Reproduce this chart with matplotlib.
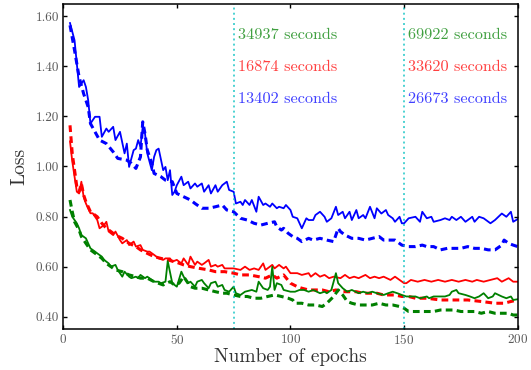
import matplotlib
matplotlib.use("Agg")
import matplotlib.pyplot as plt

plt.rcParams['font.family'] = 'serif'
plt.rcParams['font.serif'] = ['cmr10', 'DejaVu Serif']
plt.rcParams['mathtext.fontset'] = 'cm'
plt.rcParams['axes.formatter.use_mathtext'] = True

# Values (epoch, loss)
blue_solid_x = [3, 5, 6, 7, 9, 10, 11, 12, 14, 16, 17, 19, 20, 22, 23, 25, 27, 28, 29, 31,
                32, 33, 34, 35, 36, 37, 39, 40, 41, 42, 44, 45, 46, 47, 48, 49, 50, 52, 53, 55,
                56, 58, 59, 61, 62, 64, 65, 67, 68, 70, 72, 73, 75, 76, 78, 79, 80, 82, 83, 85,
                86, 88, 89, 91, 92, 94, 95, 97, 98, 100, 101, 103, 105, 107, 108, 110, 111, 113, 115, 116,
                118, 120, 121, 123, 124, 126, 127, 129, 130, 132, 133, 135, 137, 138, 140, 142, 143, 145, 146, 148,
                149, 150, 152, 155, 157, 158, 160, 162, 163, 166, 168, 170, 171, 173, 175, 177, 180, 181, 183, 185,
                188, 190, 193, 195, 197, 198, 200]
blue_solid_y = [1.572, 1.503, 1.410, 1.317, 1.344, 1.317, 1.264, 1.171, 1.198, 1.198, 1.118, 1.151, 1.138, 1.158, 1.105, 1.138, 1.052, 1.091, 0.998, 1.065,
                1.071, 1.105, 1.078, 1.158, 1.131, 1.052, 0.985, 1.038, 1.065, 1.071, 0.985, 0.998, 0.945, 0.985, 0.886, 0.899, 0.925, 0.959, 0.925, 0.939,
                0.912, 0.932, 0.919, 0.932, 0.899, 0.925, 0.892, 0.925, 0.899, 0.925, 0.939, 0.906, 0.899, 0.852, 0.859, 0.846, 0.866, 0.846, 0.866, 0.819,
                0.879, 0.846, 0.852, 0.839, 0.852, 0.833, 0.839, 0.833, 0.846, 0.826, 0.799, 0.793, 0.753, 0.793, 0.786, 0.786, 0.806, 0.819, 0.799, 0.779,
                0.793, 0.839, 0.806, 0.819, 0.793, 0.819, 0.786, 0.826, 0.793, 0.806, 0.793, 0.839, 0.793, 0.833, 0.812, 0.826, 0.806, 0.793, 0.779, 0.799,
                0.773, 0.773, 0.793, 0.799, 0.779, 0.819, 0.793, 0.799, 0.779, 0.786, 0.793, 0.786, 0.799, 0.786, 0.799, 0.779, 0.799, 0.779, 0.799, 0.793,
                0.773, 0.786, 0.812, 0.799, 0.819, 0.779, 0.790]

blue_dash_x = [3, 5, 7, 9, 11, 12, 14, 16, 19, 22, 24, 28, 30, 32, 34, 35, 36, 37, 39, 40,
               43, 45, 48, 50, 53, 56, 58, 61, 64, 67, 70, 72, 75, 78, 81, 84, 87, 90, 93, 94,
               96, 97, 99, 101, 103, 105, 108, 110, 113, 116, 119, 121, 122, 124, 127, 130, 133, 136, 139, 141,
               144, 146, 149, 152, 155, 158, 160, 163, 166, 169, 172, 175, 178, 181, 184, 187, 190, 193, 194, 196,
               198, 200]
blue_dash_y = [1.563, 1.463, 1.357, 1.290, 1.237, 1.171, 1.138, 1.105, 1.091, 1.058, 1.032, 1.025, 1.012, 0.992, 1.038, 1.178, 1.131, 1.065, 1.012, 0.972,
               0.959, 0.945, 0.939, 0.892, 0.879, 0.866, 0.852, 0.833, 0.833, 0.839, 0.846, 0.826, 0.819, 0.793, 0.786, 0.773, 0.766, 0.773, 0.779, 0.759,
               0.746, 0.753, 0.733, 0.720, 0.713, 0.700, 0.713, 0.706, 0.713, 0.706, 0.700, 0.753, 0.740, 0.726, 0.713, 0.713, 0.706, 0.713, 0.720, 0.706,
               0.706, 0.706, 0.686, 0.680, 0.680, 0.686, 0.680, 0.680, 0.667, 0.673, 0.673, 0.673, 0.680, 0.673, 0.673, 0.667, 0.667, 0.686, 0.706, 0.693,
               0.686, 0.680]

red_solid_x = [3, 4, 5, 6, 7, 8, 9, 10, 12, 13, 15, 16, 18, 19, 20, 22, 23, 25, 26, 28,
               29, 31, 32, 34, 35, 37, 38, 40, 41, 42, 44, 45, 47, 48, 50, 52, 53, 55, 56, 58,
               59, 61, 62, 64, 65, 67, 68, 70, 71, 73, 75, 78, 80, 82, 84, 86, 88, 89, 92, 93,
               95, 97, 98, 100, 101, 103, 105, 108, 109, 111, 113, 115, 117, 119, 122, 124, 126, 128, 130, 133,
               135, 137, 139, 141, 144, 146, 148, 150, 151, 153, 156, 159, 162, 165, 168, 171, 174, 177, 180, 182,
               185, 188, 191, 193, 196, 198, 200]
red_solid_y = [1.100, 1.020, 0.959, 0.899, 0.892, 0.939, 0.879, 0.852, 0.813, 0.813, 0.786, 0.753, 0.766, 0.779, 0.740, 0.726, 0.740, 0.706, 0.693, 0.706,
               0.686, 0.700, 0.680, 0.686, 0.667, 0.660, 0.660, 0.647, 0.640, 0.633, 0.627, 0.633, 0.633, 0.620, 0.627, 0.613, 0.633, 0.607, 0.640, 0.607,
               0.620, 0.607, 0.613, 0.627, 0.600, 0.607, 0.600, 0.607, 0.593, 0.593, 0.593, 0.587, 0.600, 0.587, 0.593, 0.587, 0.613, 0.587, 0.607, 0.593,
               0.607, 0.593, 0.600, 0.574, 0.574, 0.574, 0.567, 0.574, 0.560, 0.574, 0.560, 0.567, 0.554, 0.560, 0.554, 0.567, 0.554, 0.560, 0.554, 0.567,
               0.554, 0.560, 0.554, 0.560, 0.547, 0.560, 0.547, 0.534, 0.534, 0.547, 0.540, 0.547, 0.540, 0.547, 0.540, 0.547, 0.540, 0.547, 0.540, 0.547,
               0.540, 0.547, 0.554, 0.540, 0.554, 0.540, 0.540]

red_dash_x = [3, 4, 5, 6, 7, 8, 9, 10, 12, 15, 17, 19, 21, 23, 26, 29, 32, 34, 37, 40,
              43, 46, 50, 53, 56, 60, 64, 67, 71, 75, 78, 82, 86, 89, 92, 94, 97, 100, 103, 105,
              108, 111, 114, 117, 120, 123, 126, 129, 132, 135, 138, 141, 144, 146, 149, 152, 155, 160, 166, 172,
              178, 184, 190, 194, 197, 200]
red_dash_y = [1.164, 1.050, 0.985, 0.919, 0.899, 0.932, 0.886, 0.859, 0.819, 0.799, 0.773, 0.753, 0.740, 0.726, 0.713, 0.693, 0.680, 0.667, 0.653, 0.640,
              0.633, 0.627, 0.617, 0.607, 0.600, 0.593, 0.587, 0.580, 0.580, 0.574, 0.567, 0.567, 0.560, 0.554, 0.567, 0.554, 0.567, 0.534, 0.520, 0.514,
              0.507, 0.507, 0.507, 0.500, 0.507, 0.500, 0.500, 0.500, 0.494, 0.494, 0.494, 0.487, 0.487, 0.487, 0.481, 0.481, 0.474, 0.474, 0.467, 0.467,
              0.467, 0.461, 0.454, 0.454, 0.461, 0.467]

green_solid_x = [3, 4, 6, 7, 8, 10, 11, 12, 14, 15, 17, 18, 20, 21, 23, 24, 26, 27, 29, 30,
                 32, 33, 34, 36, 37, 39, 40, 42, 43, 45, 46, 48, 49, 50, 52, 53, 55, 56, 58, 59,
                 61, 62, 64, 65, 67, 68, 70, 71, 73, 75, 76, 78, 80, 83, 85, 86, 88, 90, 91, 92,
                 93, 94, 96, 97, 100, 102, 104, 106, 108, 110, 113, 115, 116, 118, 119, 120, 121, 123, 125, 127,
                 130, 132, 134, 136, 138, 141, 143, 145, 147, 149, 151, 153, 155, 157, 160, 161, 163, 166, 168, 170,
                 171, 173, 174, 177, 179, 181, 183, 185, 187, 189, 190, 193, 195, 197, 198, 200]
green_solid_y = [0.826, 0.799, 0.773, 0.753, 0.726, 0.713, 0.693, 0.673, 0.660, 0.653, 0.640, 0.627, 0.613, 0.600, 0.607, 0.587, 0.560, 0.580, 0.560, 0.554,
                 0.560, 0.554, 0.567, 0.554, 0.560, 0.547, 0.540, 0.540, 0.534, 0.540, 0.622, 0.534, 0.527, 0.520, 0.580, 0.560, 0.534, 0.540, 0.520, 0.540,
                 0.547, 0.534, 0.514, 0.534, 0.540, 0.520, 0.527, 0.507, 0.500, 0.520, 0.494, 0.487, 0.500, 0.507, 0.500, 0.540, 0.514, 0.507, 0.520, 0.600,
                 0.507, 0.534, 0.527, 0.507, 0.500, 0.500, 0.507, 0.507, 0.500, 0.507, 0.494, 0.500, 0.494, 0.507, 0.540, 0.574, 0.534, 0.514, 0.500, 0.507,
                 0.494, 0.500, 0.494, 0.500, 0.494, 0.487, 0.494, 0.500, 0.494, 0.487, 0.481, 0.481, 0.481, 0.474, 0.481, 0.474, 0.481, 0.481, 0.481, 0.487,
                 0.500, 0.507, 0.494, 0.487, 0.481, 0.474, 0.481, 0.494, 0.474, 0.481, 0.494, 0.481, 0.474, 0.481, 0.467, 0.470]

green_dash_x = [3, 4, 5, 7, 8, 10, 12, 15, 17, 19, 21, 23, 26, 29, 32, 34, 37, 40, 44, 47,
                49, 51, 53, 56, 58, 61, 64, 67, 70, 72, 75, 78, 81, 84, 87, 90, 93, 96, 99, 101,
                102, 105, 108, 111, 114, 116, 119, 121, 123, 125, 127, 130, 133, 136, 139, 142, 145, 148, 150, 152,
                155, 158, 160, 163, 166, 169, 172, 175, 178, 181, 184, 187, 190, 193, 196, 198, 200]
green_dash_y = [0.866, 0.819, 0.779, 0.746, 0.720, 0.693, 0.667, 0.647, 0.633, 0.613, 0.600, 0.587, 0.580, 0.567, 0.560, 0.554, 0.554, 0.540, 0.527, 0.540,
                0.527, 0.534, 0.560, 0.520, 0.514, 0.514, 0.507, 0.500, 0.494, 0.494, 0.487, 0.481, 0.481, 0.474, 0.474, 0.481, 0.487, 0.481, 0.474, 0.467,
                0.454, 0.454, 0.447, 0.447, 0.441, 0.454, 0.481, 0.507, 0.487, 0.461, 0.454, 0.447, 0.447, 0.447, 0.454, 0.447, 0.447, 0.441, 0.434, 0.421,
                0.421, 0.421, 0.421, 0.421, 0.427, 0.427, 0.427, 0.421, 0.421, 0.421, 0.414, 0.421, 0.414, 0.414, 0.414, 0.407, 0.407]

checkpoints = [75, 150]
times_green = ['34937', '69922']
times_red = ['16874', '33620']
times_blue = ['13402', '26673']

fig = plt.figure(figsize=(5.31, 3.70), dpi=100)
ax = fig.add_axes([0.119, 0.110, 0.856, 0.8805])

dash = (0, (2.2, 1.4))
ax.plot(blue_solid_x, blue_solid_y, color='blue', lw=1.3)
ax.plot(blue_dash_x, blue_dash_y, color='blue', lw=2.2, ls=dash)
ax.plot(red_solid_x, red_solid_y, color='red', lw=1.3)
ax.plot(red_dash_x, red_dash_y, color='red', lw=2.2, ls=dash)
ax.plot(green_solid_x, green_solid_y, color='green', lw=1.3)
ax.plot(green_dash_x, green_dash_y, color='green', lw=2.2, ls=dash)

for i, c in enumerate(checkpoints):
    ax.axvline(c, color='c', ls=':', lw=1.4, alpha=0.7)
    ax.text(c + 1.7, 1.523, times_green[i] + ' seconds', color='green', alpha=0.75,
            fontsize=11.7, va='center')
    ax.text(c + 1.7, 1.397, times_red[i] + ' seconds', color='red', alpha=0.75,
            fontsize=11.7, va='center')
    ax.text(c + 1.7, 1.268, times_blue[i] + ' seconds', color='blue', alpha=0.75,
            fontsize=11.7, va='center')

ax.set_xlim(0, 200)
ax.set_ylim(0.35, 1.65)
ax.set_xticks([0, 50, 100, 150, 200])
ax.set_yticks([0.40, 0.60, 0.80, 1.00, 1.20, 1.40, 1.60])
ax.set_yticklabels(['%.2f' % v for v in [0.40, 0.60, 0.80, 1.00, 1.20, 1.40, 1.60]])
ax.tick_params(direction='in', top=True, right=True, length=3, width=1,
               labelsize=9.5, labelcolor='0.35')
ax.tick_params(axis='x', pad=2.5)
ax.tick_params(axis='y', pad=3)
for s in ax.spines.values():
    s.set_linewidth(1.1)

ax.set_xlabel('Number of epochs', fontsize=14, color='0.2', labelpad=1)
ax.set_ylabel('Loss', fontsize=14, color='0.2', labelpad=5)

fig.savefig('out.png', dpi=100)
